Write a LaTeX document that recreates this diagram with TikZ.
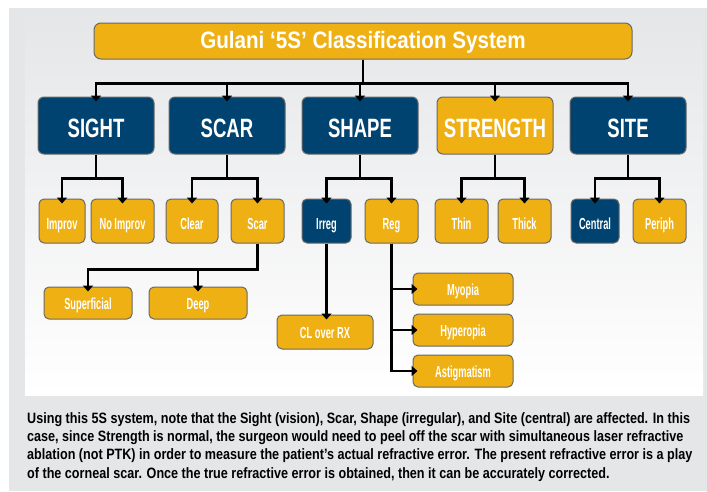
\documentclass[tikz,border=0pt]{standalone}
\usepackage{fontspec}
\newfontfamily\condfont[FakeStretch=0.70]{Liberation Sans}
\newfontfamily\smallfont[FakeStretch=0.58]{Liberation Sans}
\newfontfamily\headfont[FakeStretch=0.87]{Liberation Sans}
\newfontfamily\notefont[FakeStretch=0.84]{Liberation Sans}
\usetikzlibrary{arrows.meta}
\definecolor{gold}{RGB}{239,176,20}
\definecolor{navy}{RGB}{1,67,112}
\definecolor{panelgray}{RGB}{229,230,232}
\definecolor{edgegray}{RGB}{105,105,105}
\tikzset{
  box/.style={draw=edgegray,line width=1pt,rounded corners=6pt,text=white,inner sep=0pt},
  goldbox/.style={box,fill=gold},
  navybox/.style={box,fill=navy},
  catbox/.style={minimum width=116pt,minimum height=57pt,text height=23.6pt,text depth=0pt,
                 font=\condfont\bfseries\fontsize{26.5}{26.5}\selectfont},
  subbox/.style={minimum height=44pt,rounded corners=5pt,text height=16pt,text depth=0pt,
                 font=\smallfont\bfseries\fontsize{16}{16}\selectfont},
  leafbox/.style={minimum height=32pt,rounded corners=5pt,text height=12.6pt,text depth=0pt,
                  font=\smallfont\bfseries\fontsize{16}{16}\selectfont},
  link/.style={line width=2.4pt,-{Triangle[width=10pt,length=6pt]},shorten >=-5pt},
}
\begin{document}
\begin{tikzpicture}[x=1pt,y=-1pt]
        \useasboundingbox (0,0) rectangle (707,491);
        \fill[panelgray] (9,8) rectangle (707,491);
        \shade[top color=panelgray,bottom color=white] (25,8) rectangle (703,395);
        % title
        \node[goldbox,minimum width=538pt,minimum height=36pt,rounded corners=7pt,text height=14.6pt,text depth=0pt,
              font=\headfont\bfseries\fontsize{23.7}{23.7}\selectfont] (title) at (363,41) {Gulani ‘5S’ Classification System};
        % the five S
        \node[navybox,catbox] (sight) at (96,125.5) {SIGHT};
        \node[navybox,catbox] (scar) at (227,125.5) {SCAR};
        \node[navybox,catbox] (shape) at (360,125.5) {SHAPE};
        \node[goldbox,catbox] (strength) at (495,125.5) {STRENGTH};
        \node[navybox,catbox] (site) at (628,125.5) {SITE};
        % second row
        \node[goldbox,subbox,minimum width=46pt] (improv) at (62,221) {Improv};
        \node[goldbox,subbox,minimum width=63pt] (noimprov) at (122.5,221) {No Improv};
        \node[goldbox,subbox,minimum width=52pt] (clear) at (192,221) {Clear};
        \node[goldbox,subbox,minimum width=53pt] (scarsub) at (257.5,221) {Scar};
        \node[navybox,subbox,minimum width=49pt] (irreg) at (326.5,221) {Irreg};
        \node[goldbox,subbox,minimum width=53pt] (reg) at (391.5,221) {Reg};
        \node[goldbox,subbox,minimum width=53pt] (thin) at (461.5,221) {Thin};
        \node[goldbox,subbox,minimum width=53pt] (thick) at (524.5,221) {Thick};
        \node[navybox,subbox,minimum width=48pt] (central) at (595,221) {Central};
        \node[goldbox,subbox,minimum width=53pt] (periph) at (659.5,221) {Periph};
        % third row
        \node[goldbox,leafbox,minimum width=88pt] (superficial) at (88,303) {Superficial};
        \node[goldbox,leafbox,minimum width=98pt] (deep) at (198,303) {Deep};
        \node[goldbox,leafbox,minimum width=96pt,minimum height=34pt] (clrx) at (325,332) {CL over RX};
        \node[goldbox,leafbox,minimum width=100pt] (myopia) at (463,289) {Myopia};
        \node[goldbox,leafbox,minimum width=100pt] (hyperopia) at (463,330) {Hyperopia};
        \node[goldbox,leafbox,minimum width=100pt] (astig) at (463,371) {Astigmatism};
        % connectors
        \foreach \s in {sight,scar,shape,strength,site}
          \draw[link] (title.south) -- ++(0,24) -| (\s.north);
        \foreach \a/\b in {sight/improv,sight/noimprov,scar/clear,scar/scarsub,shape/irreg,shape/reg,
                           strength/thin,strength/thick,site/central,site/periph}
          \draw[link] (\a.south) -- ++(0,24) -| (\b.north);
        \foreach \b in {superficial,deep}
          \draw[link] (scarsub.south) -- ++(0,26) -| (\b.north);
        \draw[link] (irreg.south) -- (irreg.south |- clrx.north);
        \foreach \b in {myopia,hyperopia,astig}
          \draw[link] (reg.south) |- (\b.west);
        % note below the chart
        \node[anchor=north west,align=left,inner sep=0pt,
              font=\notefont\bfseries\fontsize{15}{18.4}\selectfont] (note) at (27,412)
          {Using this 5S system, note that the Sight (vision), Scar, Shape (irregular), and Site (central) are affected. In this\\
           case, since Strength is normal, the surgeon would need to peel off the scar with simultaneous laser refractive\\
           ablation (not PTK) in order to measure the patient’s actual refractive error. The present refractive error is a play\\
           of the corneal scar. Once the true refractive error is obtained, then it can be accurately corrected.};
\end{tikzpicture}
\end{document}
